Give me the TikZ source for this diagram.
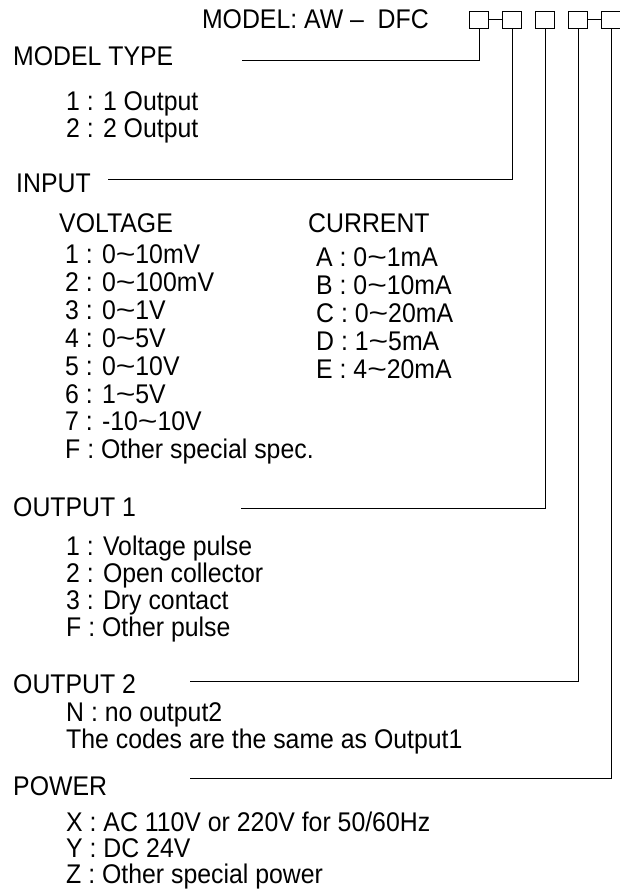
\documentclass[tikz,border=0pt]{standalone}
\usepackage{fontspec}
\usepackage{graphicx}
\setmainfont{Liberation Sans}[FakeStretch=0.92]
\newcommand{\tl}{\scalebox{1.35}[1]{\textasciitilde}}
\begin{document}
\begin{tikzpicture}[x=1pt,y=-1pt,
  txt/.style={anchor=base west, inner sep=0pt, font=\fontsize{27}{27}\selectfont},
  codebox/.style={draw, line width=1pt, minimum width=19pt, minimum height=17pt, inner sep=0pt},
  lead/.style={line width=1pt}]
\useasboundingbox (0,0) rectangle (619,891);
% code boxes
\node[codebox] (b1) at (479,20) {};
\node[codebox] (b2) at (512,20) {};
\node[codebox] (b3) at (545,20) {};
\node[codebox] (b4) at (578,20) {};
\node[codebox] (b5) at (611,20) {};
\draw[lead] (b1.east) -- (b2.west);
\draw[lead] (b4.east) -- (b5.west);
\node[txt, anchor=base east] (model) at (429,29) {MODEL: AW \textendash\ \ DFC};
% MODEL TYPE
\node[txt] (mt) at (13,66) {MODEL TYPE};
\node[txt] (mt1) at (66,110) {1 : 1 Output};
\node[txt] (mt2) at (66,137) {2 : 2 Output};
\coordinate (c1) at (242,61);
\draw[lead] (c1) -- (b1.south |- c1) -- (b1.south);
% INPUT
\node[txt] (in) at (16,192) {INPUT};
\coordinate (c2) at (108,179);
\draw[lead] (c2) -- (b2.south |- c2) -- (b2.south);
\node[txt] (volt) at (59,232) {VOLTAGE};
\node[txt] (curr) at (308,232) {CURRENT};
\node[txt] (v1) at (65,263) {1 : 0\tl10mV};
\node[txt] (v2) at (65,291) {2 : 0\tl100mV};
\node[txt] (v3) at (65,319) {3 : 0\tl1V};
\node[txt] (v4) at (65,347) {4 : 0\tl5V};
\node[txt] (v5) at (65,375) {5 : 0\tl10V};
\node[txt] (v6) at (65,403) {6 : 1\tl5V};
\node[txt] (v7) at (65,430) {7 : -10\tl10V};
\node[txt] (vf) at (65,458) {F : Other special spec.};
\node[txt] (ca) at (316,266) {A : 0\tl1mA};
\node[txt] (cb) at (316,294) {B : 0\tl10mA};
\node[txt] (cc) at (316,322) {C : 0\tl20mA};
\node[txt] (cd) at (316,350) {D : 1\tl5mA};
\node[txt] (ce) at (316,378) {E : 4\tl20mA};
% OUTPUT 1
\node[txt] (o1) at (13,516) {OUTPUT 1};
\coordinate (c3) at (241,508);
\draw[lead] (c3) -- (b3.south |- c3) -- (b3.south);
\node[txt] (o11) at (66,555) {1 : Voltage pulse};
\node[txt] (o12) at (66,582) {2 : Open collector};
\node[txt] (o13) at (66,609) {3 : Dry contact};
\node[txt] (o1f) at (66,636) {F : Other pulse};
% OUTPUT 2
\node[txt] (o2) at (13,693) {OUTPUT 2};
\coordinate (c4) at (190,681);
\draw[lead] (c4) -- (b4.south |- c4) -- (b4.south);
\node[txt] (o2n) at (66,721) {N : no output2};
\node[txt] (o2t) at (66,748) {The codes are the same as Output1};
% POWER
\node[txt] (pw) at (13,795) {POWER};
\coordinate (c5) at (190,778);
\draw[lead] (c5) -- (b5.south |- c5) -- (b5.south);
\node[txt] (px) at (66,831) {X : AC 110V or 220V for 50/60Hz};
\node[txt] (py) at (66,857) {Y : DC 24V};
\node[txt] (pz) at (66,883) {Z : Other special power};
\end{tikzpicture}
\end{document}
